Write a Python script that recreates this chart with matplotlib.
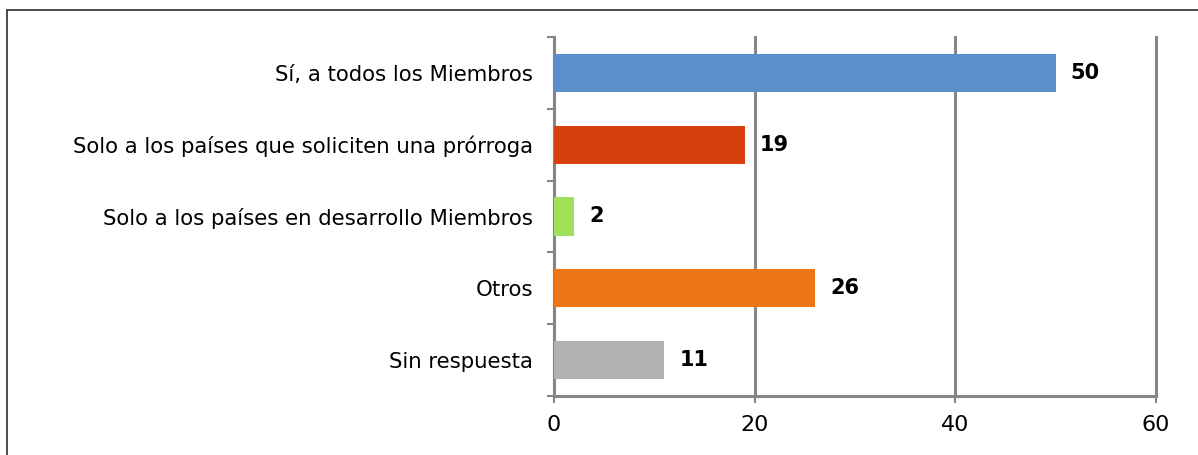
import matplotlib.pyplot as plt
from matplotlib.lines import Line2D

# Данные диаграммы
categories = [
    'Sí, a todos los Miembros',
    'Solo a los países que soliciten una prórroga',
    'Solo a los países en desarrollo Miembros',
    'Otros',
    'Sin respuesta',
]
values = [50, 19, 2, 26, 11]
colors = ['#5B8FCB', '#D83F0E', '#A0E05A', '#EE7616', '#B2B2B2']
x_ticks = [0, 20, 40, 60]

W, H = 1198, 455
fig = plt.figure(figsize=(W / 100, H / 100), dpi=100)
ax = fig.add_axes([554 / W, 1 - 396 / H, (1156 - 554) / W, (396 - 37) / H])

pos = list(range(len(categories)))
ax.barh(pos, values, height=0.53, color=colors, zorder=3)

for p, v in zip(pos, values):
    ax.text(v + 1.5, p, str(v), va='center', ha='left',
            fontsize=15, fontweight='bold', family='DejaVu Sans', zorder=4)

ax.set_xlim(0, 60)
ax.set_ylim(len(categories) - 0.5, -0.5)
ax.set_xticks(x_ticks)
ax.set_xticklabels([str(t) for t in x_ticks], fontsize=16,
                   family=['Liberation Sans Narrow', 'DejaVu Sans'])
ax.set_yticks(pos)
ax.set_yticklabels(categories, fontsize=15.3, family='DejaVu Sans')
ax.tick_params(axis='y', length=0, pad=15)
ax.set_yticks([i - 0.5 for i in range(len(categories) + 1)], minor=True)
ax.tick_params(axis='y', which='minor', length=5, width=1.5, color='#868686')
ax.tick_params(axis='x', length=5, width=1.5, color='#868686', pad=9)

ax.grid(axis='x', color='#868686', linewidth=2.2, zorder=1)
for gl in ax.get_xgridlines():
    gl.set_clip_on(False)
for s in ['top', 'right']:
    ax.spines[s].set_visible(False)
for s in ['left', 'bottom']:
    ax.spines[s].set_color('#868686')
    ax.spines[s].set_linewidth(2.2)

# рамка вокруг диаграммы
fx = 7 / W
fy = 1 - 10 / H
fig.add_artist(Line2D([fx, fx], [0, fy], transform=fig.transFigure, color='#404040', linewidth=1.3))
fig.add_artist(Line2D([fx, 1], [fy, fy], transform=fig.transFigure, color='#404040', linewidth=1.3))

fig.savefig('out.png', dpi=100)
